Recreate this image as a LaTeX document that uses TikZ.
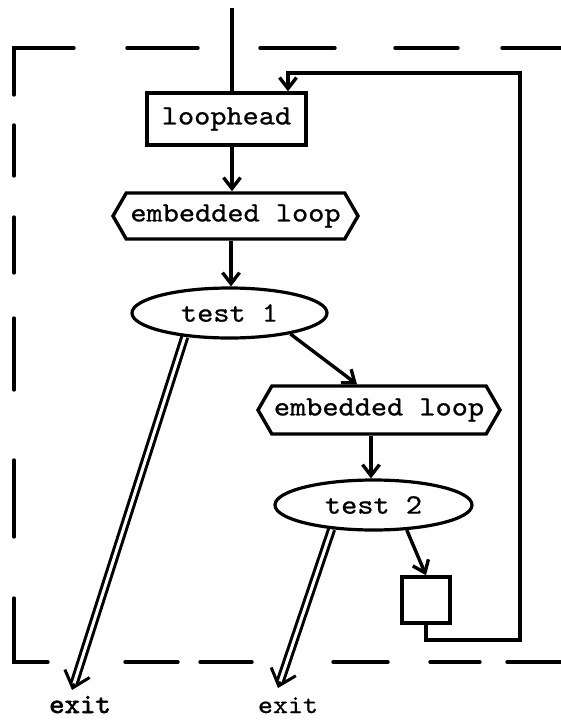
\documentclass[tikz,border=0pt]{standalone}
\usepackage{fontspec}
\usetikzlibrary{shapes.geometric,shapes.symbols,arrows.meta,calc}
\newfontfamily\typer[Extension=.otf, FakeStretch=1.1, FakeBold=0.8]{lmmono10-regular}
\newfontfamily\typerbold[Extension=.otf, FakeStretch=1.05, FakeBold=2.2]{lmmono10-regular}
\pgfdeclarelayer{background}
\pgfsetlayers{background,main}
\begin{document}
\begin{tikzpicture}[x=1pt,y=-1pt,
  every node/.style={font=\typer\fontsize{28}{30}\selectfont, inner sep=0pt},
  boxnode/.style={draw, line width=3.4pt, fill=white},
  hexnode/.style={boxnode, signal, signal to=east and west, signal pointer angle=120},
  testnode/.style={boxnode, ellipse, line width=3.2pt},
  plain/.style={line width=3.4pt},
  flow/.style={line width=3.4pt, -{Straight Barb[length=11pt,width=17pt]}},
  exitflow/.style={line width=3pt, -{Straight Barb[length=15pt,width=26pt]}},
  exitshaft/.style={line width=3pt, double, double distance=3pt, shorten >=7pt},
  frame/.style={line width=3.4pt, line cap=round},
  exitlabel/.style={anchor=base, font=\typer\fontsize{26}{28}\selectfont}]

\begin{pgfonlayer}{background}
  \fill[white] (0,0) rectangle (561,721);
\end{pgfonlayer}
\useasboundingbox (0,0) rectangle (561,721);

% dashed boundary of the loop
\draw[frame] (14,95) -- (14,48) -- (74,48);
\foreach \a/\b in {127/198, 260/335, 395/458, 502/561}
  \draw[frame] (\a,48) -- (\b,48);
\foreach \a/\b in {125/176, 217/273, 318/390, 460/537}
  \draw[frame] (14,\a) -- (14,\b);
\draw[frame] (14,598) -- (14,662) -- (48,662);
\foreach \a/\b in {125/178, 200/252, 333/388, 430/480, 507/561}
  \draw[frame] (\a,662) -- (\b,662);

% blocks
\node[boxnode, minimum width=159, minimum height=52] (lh) at (226.5,119) {loophead};
\node[hexnode, minimum width=245, minimum height=46] (e1) at (235.5,216) {embedded loop};
\node[testnode, minimum width=195, minimum height=50] (t1) at (229.5,313) {test 1};
\node[hexnode, minimum width=242, minimum height=48] (e2) at (379,410) {embedded loop};
\node[testnode, minimum width=197, minimum height=50] (t2) at (373.5,505) {test 2};
\node[boxnode, minimum width=48, minimum height=46] (bx) at (426,600) {};
\node[exitlabel, font=\typerbold\fontsize{28}{30}\selectfont] (ex1) at (80,713) {exit};
\node[exitlabel] (ex2) at (288,713) {exit};

% helper points
\coordinate (in) at (232,8);
\coordinate (c1) at (231,0);
\coordinate (c2) at (371,0);
\coordinate (fb) at (288,73);
\coordinate (rc) at (520,640);
\coordinate (x1) at (72,690);
\coordinate (x2) at (278,688);

\begin{pgfonlayer}{background}
  \draw[plain] (in) -- (in |- lh.north);
  \draw[flow] (lh.south -| in) -- (e1.north -| in);
  \draw[flow] (e1.south -| c1) -- (t1.north -| c1);
  \draw[flow] (t1.-19) -- ([xshift=-22pt]e2.north);
  \draw[flow] (e2.south -| c2) -- (t2.north -| c2);
  \draw[flow] (t2.-37) -- (bx.north);
  \draw[flow] (bx.south) |- (rc) |- (fb) -- (fb |- lh.north);
  % exits
  \draw[exitflow] (t1.208) -- (x1);
  \draw[exitshaft] (t1.208) -- (x1);
  \draw[exitflow] (t2.210) -- (x2);
  \draw[exitshaft] (t2.210) -- (x2);
\end{pgfonlayer}
\end{tikzpicture}
\end{document}
